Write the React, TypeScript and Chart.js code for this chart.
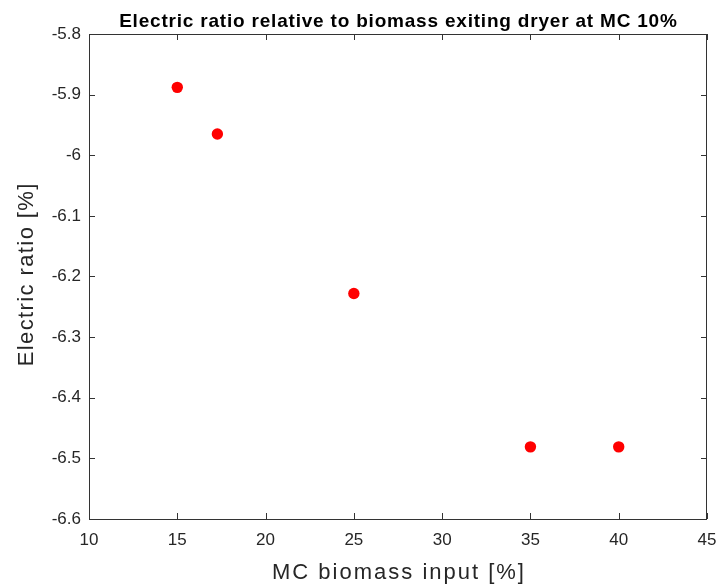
import React, { useEffect, useRef } from "react";
import { Chart, registerables } from "chart.js";

Chart.register(...registerables);

const titleText = "Electric ratio relative to biomass exiting dryer at MC 10%";
const xLabel = "MC biomass input [%]";
const yLabel = "Electric ratio [%]";

const mcInput = [15, 17.27, 25, 35, 40];
const electricRatio = [-5.888, -5.965, -6.228, -6.481, -6.481];

const xMin = 10;
const xMax = 45;
const xStep = 5;
const yMin = -6.6;
const yMax = -5.8;
const yStep = 0.1;

const TEXT = "#262626";
const FONT = "'Liberation Sans', Arial, Helvetica, sans-serif";

const framePlugin = {
  id: "matlabFrame",
  afterDraw(chart: any) {
    const { ctx, chartArea, scales } = chart;
    const { left, right, top, bottom } = chartArea;
    ctx.save();
    ctx.strokeStyle = "#333333";
    ctx.lineWidth = 1;
    ctx.beginPath();
    ctx.rect(Math.round(left) + 0.5, Math.round(top) + 0.5, Math.round(right - left) - 1, Math.round(bottom - top));
    ctx.stroke();
    const tl = 6;
    ctx.beginPath();
    scales.x.ticks.forEach((t: any) => {
      const px = Math.round(scales.x.getPixelForValue(t.value)) + 0.5;
      ctx.moveTo(px, bottom);
      ctx.lineTo(px, bottom - tl);
      ctx.moveTo(px, top);
      ctx.lineTo(px, top + tl);
    });
    scales.y.ticks.forEach((t: any) => {
      const py = Math.round(scales.y.getPixelForValue(t.value)) + 0.5;
      ctx.moveTo(left, py);
      ctx.lineTo(left + tl, py);
      ctx.moveTo(right, py);
      ctx.lineTo(right - tl, py);
    });
    ctx.stroke();

    // title
    ctx.fillStyle = "#000000";
    ctx.font = `bold 19px ${FONT}`;
    (ctx as any).letterSpacing = "0.8px";
    ctx.textAlign = "center";
    ctx.textBaseline = "alphabetic";
    ctx.fillText(titleText, (left + right) / 2 + 0.4, 27);

    // x label
    ctx.fillStyle = TEXT;
    ctx.font = `22px ${FONT}`;
    (ctx as any).letterSpacing = "2px";
    ctx.fillText(xLabel, (left + right) / 2 + 1, 579);

    // y label
    (ctx as any).letterSpacing = "1.4px";
    ctx.translate(32.5, 275);
    ctx.rotate(-Math.PI / 2);
    ctx.fillText(yLabel, 0.7, 0);
    ctx.restore();
  },
};

export default function App() {
  const canvasRef = useRef<HTMLCanvasElement | null>(null);

  useEffect(() => {
    const canvas = canvasRef.current;
    if (!canvas) return;
    const chart = new Chart(canvas, {
      type: "scatter",
      data: {
        datasets: [
          {
            data: mcInput.map((x, i) => ({ x, y: electricRatio[i] })),
            backgroundColor: "#ff0000",
            borderColor: "#ff0000",
            borderWidth: 0,
            pointRadius: 5.7,
            pointHoverRadius: 5.7,
            pointStyle: "circle",
          },
        ],
      },
      options: {
        animation: false,
        responsive: false,
        maintainAspectRatio: false,
        devicePixelRatio: 1,
        layout: { padding: { left: 0, top: 34, right: 14, bottom: 0 } },
        plugins: {
          legend: { display: false },
          title: { display: false },
          tooltip: { enabled: false },
        },
        scales: {
          x: {
            type: "linear",
            min: xMin,
            max: xMax,
            grid: { display: false, drawTicks: false },
            border: { display: false },
            ticks: {
              stepSize: xStep,
              color: TEXT,
              padding: 11,
              maxRotation: 0,
              font: { family: FONT, size: 17 },
            },
            afterFit(scale: any) {
              scale.height = 69;
              scale.paddingLeft = 0;
              scale.paddingRight = 0;
            },
          },
          y: {
            type: "linear",
            min: yMin,
            max: yMax,
            grid: { display: false, drawTicks: false },
            border: { display: false },
            ticks: {
              stepSize: yStep,
              color: TEXT,
              padding: 8,
              font: { family: FONT, size: 17 },
              callback: (v: any) => String(Math.round(Number(v) * 10) / 10),
            },
            afterFit(scale: any) {
              scale.width = 89;
              scale.paddingTop = 0;
              scale.paddingBottom = 0;
            },
          },
        },
      },
      plugins: [framePlugin],
    });
    return () => chart.destroy();
  }, []);

  return (
    <div style={{ position: "fixed", left: 0, top: 0, width: 721, height: 588, background: "#ffffff" }}>
      <canvas ref={canvasRef} width={721} height={588} style={{ width: 721, height: 588, display: "block" }} />
    </div>
  );
}
